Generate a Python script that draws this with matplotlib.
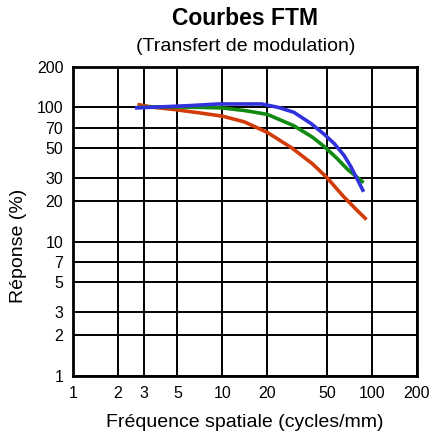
import matplotlib.pyplot as plt

plt.rcParams['font.family'] = ['Liberation Sans', 'DejaVu Sans']

# courbes (frequence en cycles/mm, reponse en %)
red_x = [2.7, 3.5, 4.9, 7, 10, 14, 20, 29, 40, 50, 65, 80, 92]
red_y = [105, 100, 96, 91, 86, 78, 65, 50, 38, 30, 21.5, 17, 14.6]
green_x = [2.7, 4.2, 7, 10, 14.2, 20, 30, 40, 48, 58, 69, 80, 88]
green_y = [100, 101, 100, 99, 94.6, 88.6, 73, 60, 51, 42, 34.4, 30, 27.5]
blue_x = [2.6, 4, 6, 9.4, 13, 18.3, 23.6, 30, 39, 48, 56, 65, 72, 80, 88]
blue_y = [99, 101, 103, 106, 106, 106, 100, 92, 76, 63, 53.7, 44, 36.5, 29, 23.5]

xticks = [1, 2, 3, 5, 10, 20, 50, 100, 200]
yticks = [1, 2, 3, 5, 7, 10, 20, 30, 50, 70, 100, 200]

fig = plt.figure(figsize=(4.32, 4.32), dpi=100)
ax = fig.add_axes([0.169, 0.13, 0.796, 0.715])

ax.plot(red_x, red_y, color='#d23c0a', lw=2.6, solid_capstyle='butt')
ax.plot(green_x, green_y, color='#108a10', lw=2.6, solid_capstyle='butt')
ax.plot(blue_x, blue_y, color='#3232dc', lw=2.6, solid_capstyle='butt')

ax.set_xscale('log')
ax.set_yscale('log')
ax.set_xlim(1, 200)
ax.set_ylim(1, 200)
ax.set_xticks(xticks)
ax.set_xticklabels([str(t) for t in xticks])
ax.set_yticks(yticks)
ax.set_yticklabels([str(t) for t in yticks])
ax.minorticks_off()
ax.tick_params(length=0, labelsize=11.5, pad=7)
ax.grid(True, color='black', lw=1.4)
ax.set_axisbelow(True)
for s in ax.spines.values():
    s.set_linewidth(2)

ax.set_xlabel('Fréquence spatiale (cycles/mm)', fontsize=14)
ax.set_ylabel('Réponse (%)', fontsize=14)
ax.yaxis.set_label_coords(-0.135, 0.42)
ax.xaxis.set_label_coords(0.5, -0.125)

fig.text(0.568, 0.958, 'Courbes FTM', ha='center', va='center',
         fontsize=16.5, fontweight='bold')
fig.text(0.568, 0.893, '(Transfert de modulation)', ha='center', va='center',
         fontsize=14)

fig.savefig('out.png', dpi=100)
